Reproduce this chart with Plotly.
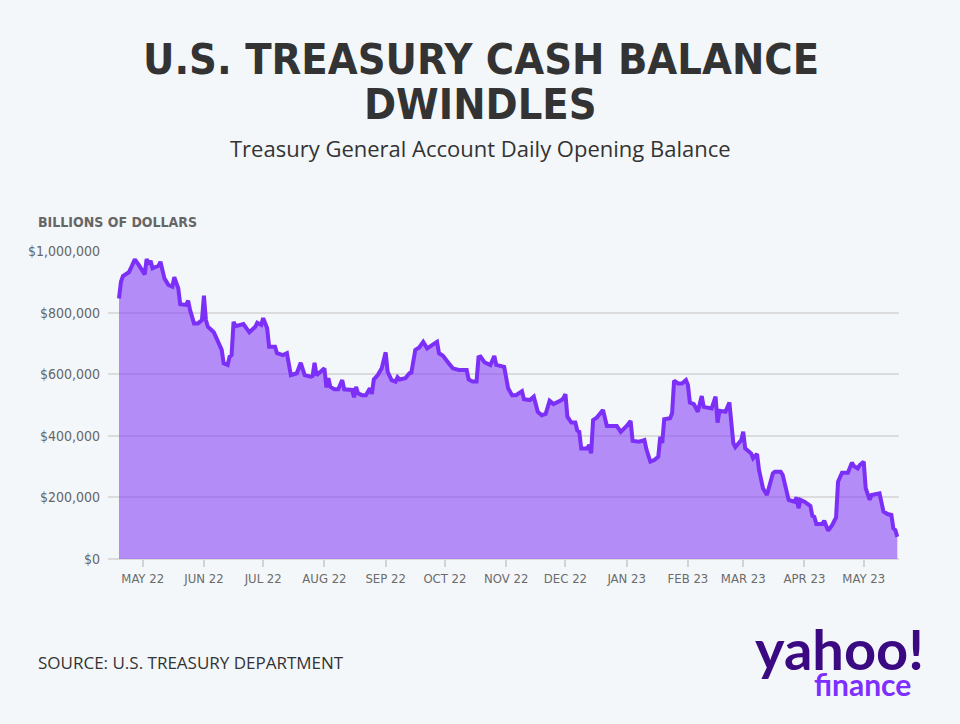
import plotly.graph_objects as go

# ---- data (Treasury General Account daily opening balance) ----
dates = [
    "2022-04-19", "2022-04-20", "2022-04-21", "2022-04-24", "2022-04-25", "2022-04-27", "2022-04-29",
    "2022-05-02", "2022-05-03", "2022-05-04", "2022-05-05", "2022-05-06", "2022-05-09", "2022-05-10",
    "2022-05-12", "2022-05-14", "2022-05-16", "2022-05-17", "2022-05-19", "2022-05-20", "2022-05-23",
    "2022-05-24", "2022-05-25", "2022-05-27", "2022-05-29", "2022-05-31",
    "2022-06-01", "2022-06-02", "2022-06-03", "2022-06-06", "2022-06-07", "2022-06-09", "2022-06-10",
    "2022-06-11", "2022-06-13", "2022-06-14", "2022-06-15", "2022-06-16", "2022-06-17", "2022-06-21",
    "2022-06-22", "2022-06-24", "2022-06-27", "2022-06-28", "2022-06-30",
    "2022-07-01", "2022-07-03", "2022-07-04", "2022-07-07", "2022-07-08", "2022-07-11", "2022-07-13",
    "2022-07-15", "2022-07-18", "2022-07-20", "2022-07-22", "2022-07-25", "2022-07-26", "2022-07-27",
    "2022-07-28", "2022-07-30",
    "2022-08-01", "2022-08-02", "2022-08-03", "2022-08-04", "2022-08-06", "2022-08-08", "2022-08-10",
    "2022-08-11", "2022-08-15", "2022-08-16", "2022-08-17", "2022-08-18", "2022-08-20", "2022-08-22",
    "2022-08-24", "2022-08-25", "2022-08-26", "2022-08-28", "2022-08-30",
    "2022-09-01", "2022-09-02", "2022-09-04", "2022-09-06", "2022-09-07", "2022-09-08", "2022-09-11",
    "2022-09-13", "2022-09-14", "2022-09-16", "2022-09-18", "2022-09-20", "2022-09-22", "2022-09-25",
    "2022-09-27", "2022-09-28", "2022-09-30",
    "2022-10-03", "2022-10-05", "2022-10-08", "2022-10-12", "2022-10-13", "2022-10-15", "2022-10-17",
    "2022-10-18", "2022-10-19", "2022-10-21", "2022-10-24", "2022-10-26", "2022-10-27", "2022-10-31",
    "2022-11-02", "2022-11-04", "2022-11-06", "2022-11-09", "2022-11-10", "2022-11-13", "2022-11-15",
    "2022-11-17", "2022-11-19", "2022-11-21", "2022-11-23", "2022-11-25", "2022-11-29", "2022-11-30",
    "2022-12-01", "2022-12-02", "2022-12-04", "2022-12-06", "2022-12-07", "2022-12-08", "2022-12-09",
    "2022-12-12", "2022-12-13", "2022-12-14", "2022-12-15", "2022-12-17", "2022-12-20", "2022-12-21",
    "2022-12-22", "2022-12-27", "2022-12-29",
    "2023-01-01", "2023-01-03", "2023-01-04", "2023-01-07", "2023-01-09", "2023-01-10", "2023-01-11",
    "2023-01-13", "2023-01-15", "2023-01-17", "2023-01-18", "2023-01-19", "2023-01-20", "2023-01-23",
    "2023-01-24", "2023-01-25", "2023-01-27", "2023-01-29", "2023-01-31",
    "2023-02-01", "2023-02-02", "2023-02-04", "2023-02-06", "2023-02-08", "2023-02-09", "2023-02-13",
    "2023-02-15", "2023-02-16", "2023-02-17", "2023-02-20", "2023-02-22", "2023-02-24", "2023-02-25",
    "2023-02-28",
    "2023-03-01", "2023-03-02", "2023-03-03", "2023-03-05", "2023-03-06", "2023-03-08", "2023-03-09",
    "2023-03-11", "2023-03-13", "2023-03-14", "2023-03-15", "2023-03-16", "2023-03-17", "2023-03-20",
    "2023-03-21", "2023-03-23", "2023-03-24", "2023-03-27", "2023-03-28", "2023-03-29", "2023-03-30",
    "2023-04-01", "2023-04-04", "2023-04-05", "2023-04-06", "2023-04-07", "2023-04-10", "2023-04-11",
    "2023-04-13", "2023-04-15", "2023-04-17", "2023-04-18", "2023-04-20", "2023-04-23", "2023-04-25",
    "2023-04-26", "2023-04-28", "2023-04-29",
    "2023-05-01", "2023-05-02", "2023-05-04", "2023-05-05", "2023-05-08", "2023-05-09", "2023-05-11",
    "2023-05-13", "2023-05-15", "2023-05-16", "2023-05-17", "2023-05-18",
]

balance_thousands = [
    846, 900, 919, 931, 944, 973, 955,
    924, 974, 957, 968, 944, 952, 965,
    911, 890, 884, 915, 879, 827, 825,
    839, 808, 765, 765, 776,
    855, 776, 754, 736, 722, 695, 679,
    635, 630, 657, 662, 770, 756, 763,
    754, 736, 754, 767, 760,
    782, 749, 689, 689, 668, 662, 668,
    597, 603, 637, 597, 592, 594, 637,
    597, 608,
    619, 557, 587, 559, 551, 551, 581,
    551, 549, 525, 559, 538, 532, 532,
    554, 536, 583, 597, 619,
    671, 608, 581, 576, 590, 583, 587,
    603, 605, 679, 687, 705, 684, 695,
    705, 668, 660,
    635, 619, 614, 614, 583, 576, 576,
    655, 657, 639, 630, 659, 630, 624,
    554, 532, 532, 545, 519, 516, 527,
    478, 467, 471, 514, 503, 516, 522,
    535, 462, 443, 443, 417, 413, 359,
    359, 370, 343, 451, 460, 484, 449,
    432, 432, 413,
    432, 448, 384, 381, 384, 386, 356,
    316, 321, 332, 397, 376, 454, 457,
    473, 579, 570, 570, 581,
    565, 508, 503, 478, 529, 494, 489,
    527, 443, 481, 478, 508, 376, 363,
    386,
    413, 359, 354, 343, 327, 341, 289,
    230, 208, 235, 256, 278, 283, 283,
    273, 208, 192, 186, 200, 165, 192,
    186, 172, 140, 137, 114, 114, 124,
    92, 110, 135, 251, 280, 280, 313,
    302, 294, 305,
    316, 230, 192, 208, 213, 213, 154,
    146, 143, 100, 94, 72,
]

balance = [v * 1000 for v in balance_thousands]

month_ticks = ["2022-05-01", "2022-06-01", "2022-07-01", "2022-08-01", "2022-09-01", "2022-10-01",
               "2022-11-01", "2022-12-01", "2023-01-01", "2023-02-01", "2023-03-01", "2023-04-01",
               "2023-05-01"]
month_labels = ["MAY 22", "JUN 22", "JUL 22", "AUG 22", "SEP 22", "OCT 22", "NOV 22", "DEC 22",
                "JAN 23", "FEB 23", "MAR 23", "APR 23", "MAY 23"]
y_ticks = [0, 200000, 400000, 600000, 800000, 1000000]
y_labels = ["$0", "$200,000", "$400,000", "$600,000", "$800,000", "$1,000,000"]

# ---- layout geometry (pixels) ----
W, H = 960, 724
L, R, T, B = 108, 61, 250, 165
PW, PH = W - L - R, H - T - B
Y_TOP = 1000000 * PH / 308.0   # 308 px per 1,000,000


def px(x):
    return (x - L) / PW


def py(y):
    return (H - B - y) / PH


BG = "#f4f7fa"
COND = "DejaVu Sans Condensed, DejaVu Sans, Roboto, sans-serif"

fig = go.Figure()
fig.add_trace(go.Scatter(
    x=dates, y=balance, mode="lines",
    line=dict(color="#7b2ff7", width=4),
    fill="tozeroy", fillcolor="rgba(137,69,247,0.6)",
    hoverinfo="x+y", showlegend=False,
))

fig.update_layout(
    width=W, height=H, autosize=False,
    margin=dict(l=L, r=R, t=T, b=B, pad=0),
    paper_bgcolor=BG, plot_bgcolor=BG,
    font=dict(family="Open Sans, sans-serif", color="#333"),
    xaxis=dict(
        type="date",
        range=["2022-04-13 10:30", "2023-05-18 20:40"],
        tickvals=month_ticks, ticktext=month_labels,
        ticks="outside", ticklen=7, tickwidth=1.5, tickcolor="#d3d3d3",
        showgrid=False, zeroline=False, showline=False,
        tickfont=dict(family=COND, size=13, color="#6b6b6b"),
        fixedrange=True,
    ),
    yaxis=dict(
        range=[0, Y_TOP],
        tickvals=y_ticks, ticktext=y_labels,
        showgrid=True, gridcolor="#dcdcdc", gridwidth=1.5,
        zeroline=True, zerolinecolor="#dcdcdc", zerolinewidth=1.5,
        showline=False, ticks="",
        ticklabelstandoff=7,
        tickfont=dict(family=COND, size=14, color="#666666"),
        fixedrange=True,
    ),
    annotations=[
        dict(text="<b>U.S. TREASURY CASH BALANCE</b>", x=px(481), xref="paper", y=py(59), yref="paper",
             xanchor="center", yanchor="middle", showarrow=False,
             font=dict(family=COND, size=43, color="#333333")),
        dict(text="<b>DWINDLES</b>", x=px(480), xref="paper", y=py(104), yref="paper",
             xanchor="center", yanchor="middle", showarrow=False,
             font=dict(family=COND, size=43, color="#333333")),
        dict(text="Treasury General Account Daily Opening Balance", x=px(480), xref="paper",
             y=py(148), yref="paper", xanchor="center", yanchor="middle", showarrow=False,
             font=dict(family="Open Sans, sans-serif", size=22, color="#333333")),
        dict(text="<b>BILLIONS OF DOLLARS</b>", x=px(36), xref="paper", y=py(222), yref="paper",
             xanchor="left", yanchor="middle", showarrow=False,
             font=dict(family=COND, size=14, color="#666666")),
        dict(text="SOURCE: U.S. TREASURY DEPARTMENT", x=px(36), xref="paper", y=py(662), yref="paper",
             xanchor="left", yanchor="middle", showarrow=False,
             font=dict(family="Open Sans, sans-serif", size=17, color="#333333")),
        dict(text="<b>yahoo!</b>", x=px(926), xref="paper", y=py(648), yref="paper",
             xanchor="right", yanchor="middle", showarrow=False,
             font=dict(family="Lato, sans-serif", size=56, color="#3b0a82", weight=900)),
        dict(text="<b>finance</b>", x=px(913), xref="paper", y=py(684), yref="paper",
             xanchor="right", yanchor="middle", showarrow=False,
             font=dict(family="Lato, sans-serif", size=30, color="#7d2fff", weight=900)),
    ],
)

fig.write_html("out.html", config={"displayModeBar": False},
               post_script="document.body.style.margin='0';")
